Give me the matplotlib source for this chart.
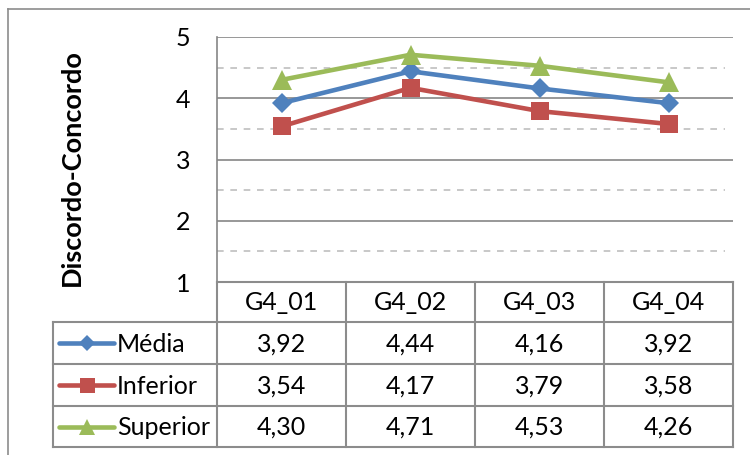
import matplotlib
matplotlib.use("Agg")
import matplotlib.pyplot as plt
from matplotlib.lines import Line2D

plt.rcParams['font.family'] = ['Lato', 'DejaVu Sans']

categories = ["G4_01", "G4_02", "G4_03", "G4_04"]
series_names = ["Média", "Inferior", "Superior"]
media = [3.92, 4.44, 4.16, 3.92]
inferior = [3.54, 4.17, 3.79, 3.58]
superior = [4.30, 4.71, 4.53, 4.26]
y_ticks = [1, 2, 3, 4, 5]
y_label = "Discordo-Concordo"

series = [media, inferior, superior]
colors = ["#4F81BD", "#C0504D", "#9BBB59"]
markers = ["D", "s", "^"]
msizes = [10, 13.5, 14]

W, H = 750, 455
fig = plt.figure(figsize=(7.5, 4.55), dpi=100)

def fx(px):
    return px / W

def fy(py):
    return 1 - py / H

FS = 18

# plot area
left, right, top, bottom = 217, 733, 37, 282
ax = fig.add_axes([fx(left), fy(bottom), fx(right - left), fy(top) - fy(bottom)])
ax.set_xlim(-0.5, len(categories) - 0.5)
ax.set_ylim(1, 5)
for s in ["top", "right", "bottom"]:
    ax.spines[s].set_visible(False)
ax.spines["left"].set_color("#868686")
ax.spines["left"].set_linewidth(1.2)
ax.set_xticks([])
ax.set_yticks(y_ticks)
ax.tick_params(axis="y", length=0, pad=19, labelsize=FS)
for v in y_ticks[1:]:
    ax.axhline(v, color="#868686", lw=1.2, zorder=1)
for v in [1.5, 2.5, 3.5, 4.5]:
    ax.axhline(v, color="#BFBFBF", lw=1.2, ls=(0, (4, 4)), xmax=0.985, zorder=1)

for vals, c, m, ms in zip(series, colors, markers, msizes):
    ax.plot(range(len(categories)), vals, color=c, lw=3.3, marker=m,
            markersize=ms, markeredgewidth=0, zorder=3, clip_on=False)

fig.text(fx(72), fy(168), y_label, rotation=90, ha="center", va="center",
         fontsize=19.5, fontweight="bold")

# outer frame
frame_c = "#8C8C8C"
fig.add_artist(Line2D([fx(8), fx(750)], [fy(9), fy(9)], color=frame_c, lw=1.2))
fig.add_artist(Line2D([fx(8), fx(8)], [fy(9), fy(455)], color=frame_c, lw=1.2))

# data table
grid_c = "#8C8C8C"
col_edges = [left + i * (right - left) / len(categories) for i in range(len(categories) + 1)]
row_edges = [282, 322, 364, 406, 447]
leg_left = 53

def hline(x0, x1, y):
    fig.add_artist(Line2D([fx(x0), fx(x1)], [fy(y), fy(y)], color=grid_c, lw=1.5))

def vline(x, y0, y1):
    fig.add_artist(Line2D([fx(x), fx(x)], [fy(y0), fy(y1)], color=grid_c, lw=1.5))

hline(left, right, row_edges[0])
for y in row_edges[1:]:
    hline(leg_left, right, y)
for x in col_edges:
    vline(x, row_edges[0], row_edges[-1])
vline(leg_left, row_edges[1], row_edges[-1])

for i, cat in enumerate(categories):
    cx = (col_edges[i] + col_edges[i + 1]) / 2
    fig.text(fx(cx), fy((row_edges[0] + row_edges[1]) / 2 + 1), cat,
             ha="center", va="center", fontsize=FS)
    for r, vals in enumerate(series):
        cy = (row_edges[r + 1] + row_edges[r + 2]) / 2 + 1
        fig.text(fx(cx), fy(cy), f"{vals[i]:.2f}".replace(".", ","),
                 ha="center", va="center", fontsize=FS)

for r, (name, c, m, ms) in enumerate(zip(series_names, colors, markers, msizes)):
    cy = (row_edges[r + 1] + row_edges[r + 2]) / 2
    fig.add_artist(Line2D([fx(59), fx(114)], [fy(cy), fy(cy)], color=c, lw=3.3,
                          solid_capstyle="round"))
    fig.add_artist(Line2D([fx(87)], [fy(cy)], color=c, marker=m,
                          markersize=ms * 0.8, markeredgewidth=0, lw=0))
    fig.text(fx(117), fy(cy + 1), name, ha="left", va="center", fontsize=FS)

fig.savefig("out.png", dpi=100)
